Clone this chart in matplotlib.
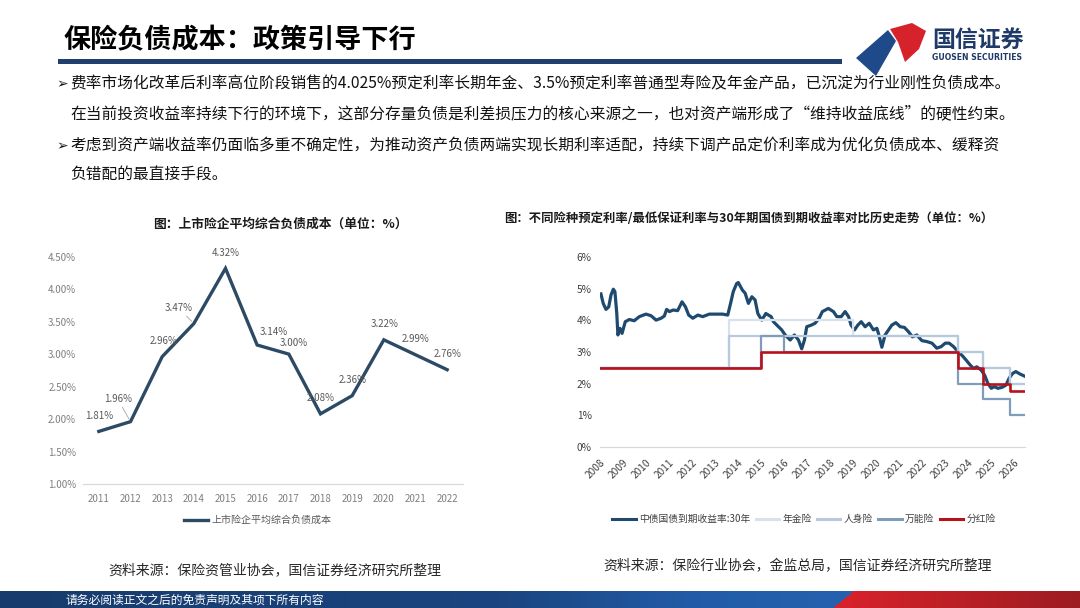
import numpy as np
import matplotlib
matplotlib.use('Agg')
import matplotlib.pyplot as plt
from matplotlib.patches import Polygon, Rectangle
from matplotlib.lines import Line2D

plt.rcParams['font.family'] = ['Noto Sans CJK SC', 'DejaVu Sans']
plt.rcParams['axes.unicode_minus'] = False

# ---------------- data: left chart ----------------
left_years = ['2011', '2012', '2013', '2014', '2015', '2016',
              '2017', '2018', '2019', '2020', '2021', '2022']
liability_cost = [1.81, 1.96, 2.96, 3.47, 4.32, 3.14, 3.00, 2.08, 2.36, 3.22, 2.99, 2.76]
left_yticks = [1.0, 1.5, 2.0, 2.5, 3.0, 3.5, 4.0, 4.5]
left_series_name = '上市险企平均综合负债成本'

# ---------------- data: right chart ----------------
bond_time = [2008.04, 2008.14, 2008.26, 2008.38, 2008.48, 2008.58, 2008.65, 2008.73, 2008.78,
             2008.87, 2008.96, 2009.10, 2009.28, 2009.49, 2009.71, 2010.00, 2010.22, 2010.44,
             2010.66, 2010.80, 2010.90, 2011.02, 2011.19, 2011.38, 2011.57, 2011.72, 2011.86,
             2012.04, 2012.26, 2012.47, 2012.76, 2013.05, 2013.34, 2013.56, 2013.70, 2013.80,
             2013.95, 2014.02, 2014.20, 2014.32, 2014.46, 2014.61, 2014.75, 2014.87, 2015.04,
             2015.22, 2015.33, 2015.45, 2015.55, 2015.70, 2015.91, 2016.06, 2016.28, 2016.46,
             2016.64, 2016.78, 2016.90, 2017.00, 2017.19, 2017.36, 2017.54, 2017.68, 2017.94,
             2018.16, 2018.31, 2018.50, 2018.67, 2018.82, 2018.93, 2019.08, 2019.22, 2019.37,
             2019.54, 2019.72, 2019.90, 2020.05, 2020.12, 2020.27, 2020.41, 2020.56, 2020.70,
             2020.88, 2021.07, 2021.25, 2021.43, 2021.60, 2021.79, 2022.01, 2022.23, 2022.45,
             2022.66, 2022.85, 2023.03, 2023.20, 2023.39, 2023.58, 2023.75, 2023.93, 2024.11,
             2024.26, 2024.40, 2024.59, 2024.74, 2024.88, 2025.03, 2025.17, 2025.32, 2025.50,
             2025.67, 2025.81, 2025.96, 2026.10, 2026.29, 2026.47]
bond_yield = [4.84, 4.54, 4.35, 4.43, 4.81, 4.99, 4.91, 4.22, 3.54,
              3.75, 3.59, 3.96, 4.03, 3.99, 4.12, 4.20, 4.15, 4.01,
              4.07, 4.14, 4.35, 4.28, 4.33, 4.31, 4.59, 4.43, 4.17,
              4.07, 4.17, 4.12, 4.20, 4.20, 4.20, 4.17, 4.59, 4.91,
              5.17, 5.20, 4.96, 4.86, 4.54, 4.75, 4.65, 4.22, 4.01,
              4.22, 4.17, 4.12, 3.96, 3.85, 3.70, 3.54, 3.38, 3.54,
              3.38, 3.10, 3.38, 3.80, 3.85, 3.91, 4.07, 4.28, 4.38,
              4.28, 4.12, 4.12, 4.28, 4.12, 3.85, 3.70, 3.85, 3.96,
              3.80, 3.91, 3.70, 3.75, 3.59, 3.15, 3.54, 3.70, 3.85,
              3.93, 3.80, 3.78, 3.64, 3.48, 3.54, 3.36, 3.33, 3.28,
              3.12, 3.17, 3.28, 3.28, 3.17, 3.01, 2.90, 2.75, 2.59,
              2.48, 2.53, 2.43, 2.27, 2.01, 1.85, 1.90, 1.85, 1.88,
              1.95, 2.17, 2.32, 2.38, 2.30, 2.24]

annuity_time = [2008.0, 2013.62, 2019.0, 2023.57, 2024.69, 2025.86, 2026.5]
annuity_rate = [2.5, 4.0, 3.5, 3.0, 2.5, 2.0, 2.0]
life_time = [2008.0, 2013.62, 2023.57, 2024.69, 2025.86, 2026.5]
life_rate = [2.5, 3.5, 3.0, 2.5, 2.0, 2.0]
universal_time = [2008.0, 2015.02, 2016.03, 2023.57, 2024.69, 2025.86, 2026.5]
universal_rate = [2.5, 3.5, 3.0, 2.0, 1.5, 1.0, 1.0]
participating_time = [2008.0, 2015.02, 2023.57, 2024.69, 2025.86, 2026.5]
participating_rate = [2.5, 3.0, 2.5, 2.0, 1.75, 1.75]

right_xticks = list(range(2008, 2027))
right_yticks = [0, 1, 2, 3, 4, 5, 6]
right_names = ['中债国债到期收益率:30年', '年金险', '人身险', '万能险', '分红险']

# ---------------- text ----------------
page_title = '保险负债成本：政策引导下行'
bullet_lines = [
    '费率市场化改革后利率高位阶段销售的4.025%预定利率长期年金、3.5%预定利率普通型寿险及年金产品，已沉淀为行业刚性负债成本。',
    '在当前投资收益率持续下行的环境下，这部分存量负债是利差损压力的核心来源之一，也对资产端形成了“维持收益底线”的硬性约束。',
    '考虑到资产端收益率仍面临多重不确定性，为推动资产负债两端实现长期利率适配，持续下调产品定价利率成为优化负债成本、缓释资',
    '负错配的最直接手段。',
]
left_title = '图：上市险企平均综合负债成本（单位：%）'
right_title = '图：不同险种预定利率/最低保证利率与30年期国债到期收益率对比历史走势（单位：%）'
left_source = '资料来源：保险资管业协会，国信证券经济研究所整理'
right_source = '资料来源：保险行业协会，金监总局，国信证券经济研究所整理'
footer_text = '请务必阅读正文之后的免责声明及其项下所有内容'

# ---------------- figure ----------------
W, H = 1080, 608
fig = plt.figure(figsize=(W / 100, H / 100), dpi=100)
fig.patch.set_facecolor('white')

canvas = fig.add_axes([0, 0, 1, 1])
canvas.set_xlim(0, W)
canvas.set_ylim(H, 0)
canvas.axis('off')

# footer gradient band
band_top = 591
rows = H - band_top
xs = np.arange(W)
stop_x = [0, 500, 700, 1080]
blue_r = np.interp(xs, stop_x, [0x17, 0x1a, 0x22, 0x2a]) / 255
blue_g = np.interp(xs, stop_x, [0x3b, 0x45, 0x5c, 0x6a]) / 255
blue_b = np.interp(xs, stop_x, [0x6c, 0x80, 0xa8, 0xb8]) / 255
red_r = np.interp(xs, [0, 850, 1080], [0xd6, 0xd6, 0x9c]) / 255
red_g = np.interp(xs, [0, 850, 1080], [0x22, 0x22, 0x1c]) / 255
red_b = np.interp(xs, [0, 850, 1080], [0x2a, 0x2a, 0x22]) / 255
grad = np.zeros((rows, W, 3))
for r in range(rows):
    bx = 853 - 21 * r / rows
    m = xs >= bx
    grad[r, :, 0] = np.where(m, red_r, blue_r)
    grad[r, :, 1] = np.where(m, red_g, blue_g)
    grad[r, :, 2] = np.where(m, red_b, blue_b)
canvas.imshow(grad, extent=(0, W, H, band_top), aspect='auto', interpolation='bilinear')
canvas.set_xlim(0, W)
canvas.set_ylim(H, 0)
canvas.text(65, 600, footer_text, fontsize=8.5, color='white', va='center', ha='left')

# header
canvas.text(64, 40, page_title, fontsize=19.5, fontweight='bold', color='black',
            va='center', ha='left')
canvas.add_patch(Rectangle((58, 59), 784, 4.5, color='#1f3f6e', lw=0))
# logo
canvas.add_patch(Polygon([(856, 58), (888, 30), (896, 41), (876, 76)], closed=True,
                         color='#1f4a8a', lw=0))
canvas.add_patch(Polygon([(890, 29), (912, 23), (926, 31), (919, 49), (905, 62), (898, 42)],
                         closed=True, color='#d6222b', lw=0))
canvas.text(932, 40, '国信证券', fontsize=16.5, fontweight='bold', color='#1f3a68',
            va='center', ha='left')
canvas.text(932, 58, 'GUOSEN SECURITIES', fontsize=5.6, fontweight='bold', color='#1f3a68',
            va='center', ha='left', family='DejaVu Sans')

# bullets
line_y = [84, 114, 146, 174]
for i, (txt, yy) in enumerate(zip(bullet_lines, line_y)):
    if i in (0, 2):
        canvas.text(56, yy, '➢', fontsize=10, color='#1a1a1a', va='center', ha='left',
                    family='DejaVu Sans')
    canvas.text(70, yy, txt, fontsize=11.3, color='#111111', va='center', ha='left')

# chart titles and sources
canvas.text(280, 224, left_title, fontsize=9.2, fontweight='bold', color='#1a1a1a',
            ha='center', va='center')
canvas.text(749, 218, right_title, fontsize=8.9, fontweight='bold', color='#1a1a1a',
            ha='center', va='center')
canvas.text(275, 570, left_source, fontsize=10, color='#262626', ha='center', va='center')
canvas.text(798, 566, right_source, fontsize=10, color='#262626', ha='center', va='center')

# ---------------- left chart ----------------
def fig_rect(x0, y0, x1, y1):
    return [x0 / W, 1 - y1 / H, (x1 - x0) / W, (y1 - y0) / H]

ax1 = fig.add_axes(fig_rect(83, 256.7, 463, 484))
ax1.patch.set_alpha(0)
line_color = '#2c4a64'
xpos = np.arange(len(left_years))
ax1.plot(xpos, liability_cost, color=line_color, lw=2.4, clip_on=False,
         solid_joinstyle='miter')
ax1.set_xlim(-0.5, len(left_years) - 0.5)
ax1.set_ylim(left_yticks[0], left_yticks[-1])
ax1.set_yticks(left_yticks)
ax1.set_yticklabels([f'{v:.2f}%' for v in left_yticks])
ax1.set_xticks(xpos)
ax1.set_xticklabels(left_years)
ax1.tick_params(axis='both', length=0, labelsize=7, labelcolor='#7f7f7f')
ax1.tick_params(axis='y', pad=5)
ax1.tick_params(axis='x', pad=7)
for s in ['top', 'right', 'left']:
    ax1.spines[s].set_visible(False)
ax1.spines['bottom'].set_color('#d9d9d9')
ax1.spines['bottom'].set_linewidth(0.9)

label_offsets = [(0.5, 11.2), (-9, 16), (1, 11.4), (-10.7, 11), (0.5, 11.4), (12, 9.5),
                 (3.5, 8.1), (0.4, 11.2), (0.2, 11.2), (0.2, 11.3), (0, 11.7), (0, 11)]
leader = {1, 3}
for i, v in enumerate(liability_cost):
    kw = {}
    if i in leader:
        kw['arrowprops'] = dict(arrowstyle='-', color='#a6a6a6', lw=0.6,
                                shrinkA=0, shrinkB=2)
    ax1.annotate(f'{v:.2f}%', xy=(i, v), xytext=label_offsets[i], textcoords='offset points',
                 ha='center', va='center', fontsize=7, color='#595959', **kw)

ax1.legend([Line2D([], [], color=line_color, lw=2.4)], [left_series_name],
           loc='center', bbox_to_anchor=(258 / W, 1 - 520 / H),
           bbox_transform=fig.transFigure, frameon=False, fontsize=7.2,
           handlelength=2.4, handletextpad=0.35, labelcolor='#595959')

# ---------------- right chart ----------------
ax2 = fig.add_axes(fig_rect(600, 257.3, 1025, 446.7))
ax2.patch.set_alpha(0)
bond_color = '#1f4a70'
annuity_color = '#d9e1ea'
life_color = '#b7c9dc'
universal_color = '#7f9dbb'
part_color = '#b5121b'

ax2.plot(bond_time, bond_yield, color=bond_color, lw=2.3, zorder=2)
ax2.step(annuity_time, annuity_rate, where='post', color=annuity_color, lw=1.6, zorder=3)
ax2.step(life_time, life_rate, where='post', color=life_color, lw=1.6, zorder=4)
ax2.step(universal_time, universal_rate, where='post', color=universal_color, lw=1.6, zorder=5)
ax2.step(participating_time, participating_rate, where='post', color=part_color, lw=1.9,
         zorder=6)

ax2.set_xlim(2008, 2026.5)
ax2.set_ylim(right_yticks[0], right_yticks[-1])
ax2.set_yticks(right_yticks)
ax2.set_yticklabels([f'{v}%' for v in right_yticks])
ax2.set_xticks(right_xticks)
ax2.set_xticklabels([str(v) for v in right_xticks], rotation=45, ha='right', va='top',
                    rotation_mode='anchor')
ax2.tick_params(axis='both', length=0, labelsize=7.3, labelcolor='#404040')
ax2.tick_params(axis='y', pad=6)
ax2.tick_params(axis='x', pad=8)
for s in ['top', 'right', 'left']:
    ax2.spines[s].set_visible(False)
ax2.spines['bottom'].set_color('#d9d9d9')
ax2.spines['bottom'].set_linewidth(0.9)

handles = [Line2D([], [], color=bond_color, lw=2.2),
           Line2D([], [], color=annuity_color, lw=2.2),
           Line2D([], [], color=life_color, lw=2.2),
           Line2D([], [], color=universal_color, lw=2.2),
           Line2D([], [], color=part_color, lw=2.2)]
ax2.legend(handles, right_names, loc='center', bbox_to_anchor=(804 / W, 1 - 519 / H),
           bbox_transform=fig.transFigure, ncol=5, frameon=False, fontsize=7,
           handlelength=2.4, handletextpad=0.35, columnspacing=0.55, labelcolor='#404040')

fig.savefig('out.png', dpi=100)
